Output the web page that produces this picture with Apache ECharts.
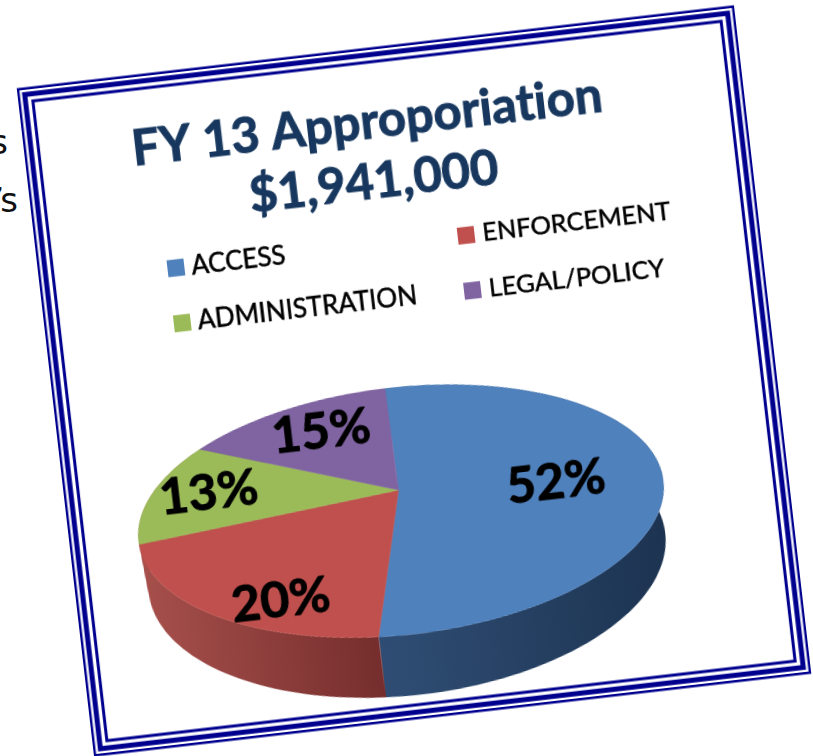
<!DOCTYPE html>
<html>
<head>
<meta charset="utf-8" />
<title>FY 13 Approporiation</title>
<script src="https://cdn.jsdelivr.net/npm/echarts@6/dist/echarts.min.js"></script>
<style>
html,body{margin:0;padding:0;background:#fff;overflow:hidden;width:813px;height:756px;}
#chart{position:absolute;left:0;top:0;width:813px;height:756px;transform-origin:414px 381px;transform:rotate(-6.6deg);filter:blur(0.4px);}
.cut{position:absolute;font-family:"DejaVu Sans";font-size:34px;line-height:34px;color:#111;white-space:nowrap;}
</style>
</head>
<body>
<div class="cut" style="right:805px;top:125px;">s</div>
<div class="cut" style="right:799px;top:183px;letter-spacing:-4px;">’s</div>
<div id="chart"></div>
<script>
// zero width non-joiner keeps Lato from drawing a "ti" ligature
var titleText = 'FY 13 Approporiat\u200cion\n$1,941,000';
var categories = ['ACCESS', 'ENFORCEMENT', 'ADMINISTRATION', 'LEGAL/POLICY'];
var shares = [52, 20, 13, 15];

var topColors = ['#4f81bd', '#c0504d', '#9bbb59', '#8064a2'];
// green wall only shows as a sliver next to the red one, so it takes the red tone
var wallColors = [['#2f4d74', '#1c3350'], ['#a64f4b', '#752e2d'], ['#a64f4b', '#a64f4b'], ['#5b4675', '#5b4675']];

// pie drawn as a tilted disc with a bit of perspective
var cx = 386.1, cy = 487.5, rx = 260, ry = 119.8, persp = 0.1725, depth = 50.5, floorScale = 0.985;
var startAngle = -0.5 * Math.PI / 180;
// label spots on the unit disc (across, towards viewer)
var labelSpots = [[0.597, 0.084], [-0.4375, 0.705], [-0.746, -0.159], [-0.298, -0.617]];

function project(x, n, drop) {
    var w = 1 - persp * n;
    if (drop) {
        return [cx + rx * x / w * floorScale, cy + ry * n / w + depth / w];
    }
    return [cx + rx * x / w, cy + ry * n / w];
}

function arc(from, to, drop) {
    var pts = [];
    var steps = Math.max(2, Math.ceil((to - from) / 0.03));
    for (var i = 0; i <= steps; i++) {
        var t = from + (to - from) * i / steps;
        pts.push(project(Math.sin(t), -Math.cos(t), drop));
    }
    return pts;
}

function sliceRenderer(idx) {
    return function (params, api) {
        var total = shares.reduce(function (a, b) { return a + b; }, 0);
        var before = shares.slice(0, idx).reduce(function (a, b) { return a + b; }, 0);
        var a0 = startAngle + before / total * Math.PI * 2;
        var a1 = a0 + api.value(0) / total * Math.PI * 2;
        var rim = arc(a0, a1, false);
        var wall = rim.concat(arc(a0, a1, true).reverse());
        var spot = project(labelSpots[idx][0], labelSpots[idx][1], false);
        return {
            type: 'group',
            children: [
                {
                    type: 'polygon',
                    z2: 1,
                    shape: { points: wall },
                    style: {
                        fill: new echarts.graphic.LinearGradient(0, 0, 1, 0, [
                            { offset: 0, color: wallColors[idx][0] },
                            { offset: 1, color: wallColors[idx][1] }
                        ])
                    }
                },
                {
                    type: 'polygon',
                    z2: 2,
                    shape: { points: [[cx, cy]].concat(rim) },
                    style: { fill: topColors[idx], stroke: topColors[idx], lineWidth: 0.5 }
                },
                {
                    type: 'text',
                    z2: 3,
                    style: {
                        text: api.value(0) + '%',
                        x: spot[0],
                        y: spot[1],
                        fill: '#000',
                        stroke: '#000',
                        lineWidth: 1,
                        font: 'bold 50px Lato',
                        align: 'center',
                        verticalAlign: 'middle'
                    }
                }
            ]
        };
    };
}

var series = [];
for (var i = 0; i < categories.length; i++) {
    series.push({
        type: 'custom',
        name: categories[i],
        coordinateSystem: 'none',
        itemStyle: { color: topColors[i] },
        renderItem: sliceRenderer(i),
        silent: true,
        data: [shares[i]]
    });
}

// frame, in the rotated page
function frameRect(inset, lw, fill) {
    return {
        type: 'rect',
        z: -1,
        shape: { x: 53 + inset, y: 44.5 + inset, width: 722 - 2 * inset, height: 673 - 2 * inset },
        style: { fill: fill, stroke: '#00008f', lineWidth: lw }
    };
}

var legendLeft = {
    fontFamily: 'Lato', fontSize: 26, color: '#000', padding: [0, 0, 0, 2],
    textBorderColor: '#000', textBorderWidth: 0.5
};
var legendRight = {
    fontFamily: 'Lato', fontSize: 25.5, color: '#000', padding: [0, 0, 0, 3],
    textBorderColor: '#000', textBorderWidth: 0.5
};

var myChart = echarts.init(document.getElementById('chart'));
myChart.setOption({
    animation: false,
    title: {
        text: titleText,
        left: 392,
        top: 84,
        textAlign: 'center',
        textStyle: {
            fontFamily: 'Lato', fontWeight: 'bold', fontSize: 49, lineHeight: 60, color: '#17375e',
            textBorderColor: '#17375e', textBorderWidth: 1
        }
    },
    legend: [
        {
            data: categories.filter(function (c, i) { return i % 2 === 0; }),
            orient: 'vertical', left: 182, top: 228, padding: 0, itemGap: 29,
            itemWidth: 17, itemHeight: 17, icon: 'rect', textStyle: legendLeft, selectedMode: false
        },
        {
            data: categories.filter(function (c, i) { return i % 2 === 1; }),
            orient: 'vertical', left: 474, top: 229, padding: 0, itemGap: 29,
            itemWidth: 17, itemHeight: 17, icon: 'rect', textStyle: legendRight, selectedMode: false
        }
    ],
    graphic: [
        frameRect(1.2, 2.4, '#fff'),
        frameRect(7.2, 5, 'none'),
        frameRect(14.6, 3, 'none')
    ],
    series: series
});
</script>
</body>
</html>
